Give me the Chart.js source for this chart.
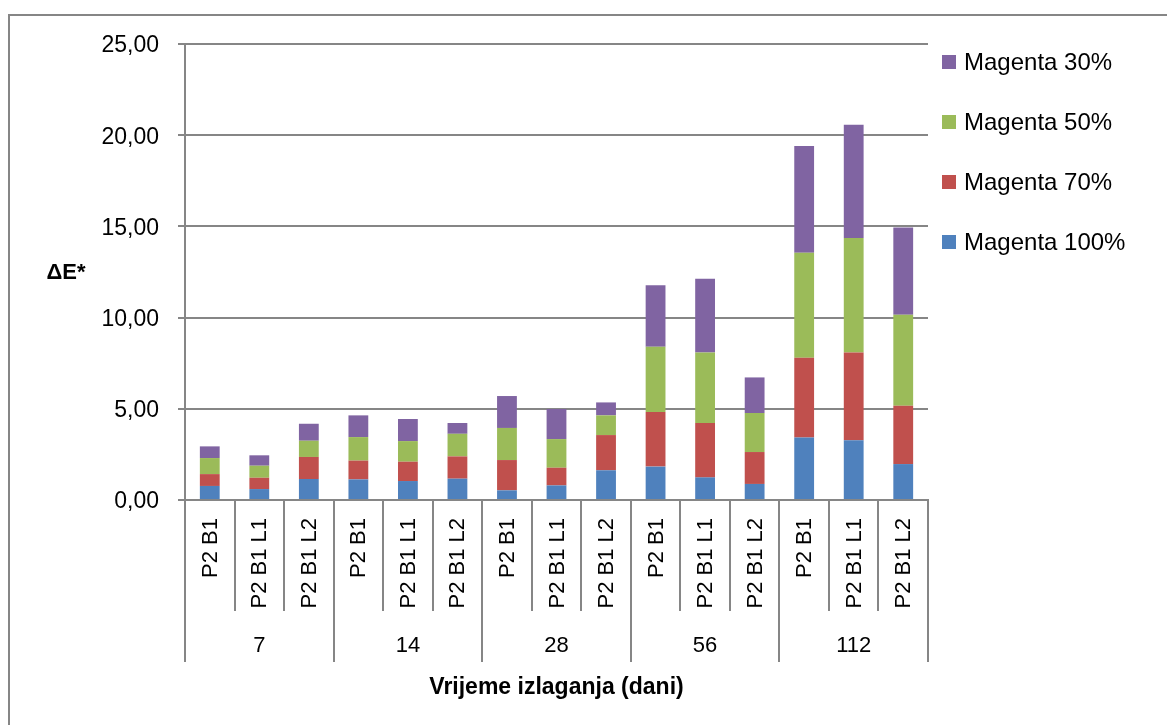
<!DOCTYPE html>
<html>
<head>
<meta charset="utf-8">
<script src="https://cdn.jsdelivr.net/npm/chart.js@4.4.1/dist/chart.umd.min.js"></script>
<style>
  html, body { margin: 0; padding: 0; background: #ffffff; }
  canvas { display: block; }
</style>
</head>
<body>
<canvas id="c" width="1167" height="725"></canvas>
<script>
// ---- data ----
const days = ["7", "14", "28", "56", "112"];
const samples = ["P2 B1", "P2 B1 L1", "P2 B1 L2"];
const magenta100 = [0.77, 0.60, 1.15, 1.13, 1.04, 1.17, 0.53, 0.80, 1.63, 1.83, 1.24, 0.88, 3.43, 3.27, 1.97];
const magenta70  = [0.65, 0.62, 1.21, 1.03, 1.06, 1.22, 1.66, 0.97, 1.93, 2.99, 2.98, 1.75, 4.37, 4.82, 3.20];
const magenta50  = [0.88, 0.66, 0.89, 1.29, 1.13, 1.24, 1.76, 1.57, 1.08, 3.58, 3.87, 2.14, 5.75, 6.27, 4.99];
const magenta30  = [0.64, 0.57, 0.93, 1.19, 1.21, 0.59, 1.75, 1.65, 0.71, 3.38, 4.04, 1.95, 5.86, 6.21, 4.78];
const yTicks = [0, 5, 10, 15, 20, 25];
const yTitle = "ΔE*";
const xTitle = "Vrijeme izlaganja (dani)";

const labels = [];
days.forEach(d => samples.forEach(s => labels.push(s)));

const FONT = "'Liberation Sans', Arial, sans-serif";
const AXIS = "#868686";

const multiLevelAxis = {
  id: 'multiLevelAxis',
  beforeDraw(chart) {
    const ctx = chart.ctx;
    ctx.save();
    ctx.fillStyle = '#ffffff';
    ctx.fillRect(0, 0, chart.width, chart.height);
    ctx.strokeStyle = AXIS;
    ctx.lineWidth = 2;
    ctx.strokeRect(9, 15, chart.width + 20, chart.height + 20);
    ctx.restore();
  },
  afterDraw(chart) {
    const ctx = chart.ctx;
    const xs = chart.scales.x;
    const axisY = xs.top;
    const n = labels.length;
    const step = n > 1 ? xs.getPixelForValue(1) - xs.getPixelForValue(0) : (xs.right - xs.left);
    ctx.save();
    // separators
    ctx.strokeStyle = AXIS;
    ctx.lineWidth = 2;
    for (let i = 0; i <= n; i++) {
      const x = i < n ? xs.getPixelForValue(i) - step / 2 : xs.getPixelForValue(n - 1) + step / 2;
      const bottom = (i % samples.length === 0) ? axisY + 162 : axisY + 111;
      ctx.beginPath();
      ctx.moveTo(Math.round(x), axisY);
      ctx.lineTo(Math.round(x), bottom);
      ctx.stroke();
    }
    // inner labels (rotated)
    ctx.fillStyle = '#000000';
    ctx.font = "22px " + FONT;
    ctx.textAlign = 'right';
    ctx.textBaseline = 'middle';
    for (let i = 0; i < n; i++) {
      const cx = xs.getPixelForValue(i);
      ctx.save();
      ctx.translate(cx + 1, axisY + 18);
      ctx.rotate(-Math.PI / 2);
      ctx.fillText(labels[i], 0, 0);
      ctx.restore();
    }
    // group labels
    ctx.textAlign = 'center';
    ctx.font = "22px " + FONT;
    days.forEach((d, g) => {
      const a = xs.getPixelForValue(g * samples.length);
      const b = xs.getPixelForValue(g * samples.length + samples.length - 1);
      ctx.fillText(d, (a + b) / 2, axisY + 146);
    });
    // x title
    const ca = chart.chartArea;
    ctx.font = "bold 23px " + FONT;
    ctx.fillText(xTitle, (ca.left + ca.right) / 2, axisY + 188);
    // y title
    ctx.font = "bold 22px " + FONT;
    ctx.fillText(yTitle, 66, (ca.top + ca.bottom) / 2 + 1);
    // legend (reverse order)
    const ds = chart.data.datasets.slice().reverse();
    ctx.textAlign = 'left';
    ctx.font = "24px " + FONT;
    ds.forEach((d, k) => {
      const cy = 62 + k * 60;
      ctx.fillStyle = d.backgroundColor;
      ctx.fillRect(942, cy - 7, 14, 14);
      ctx.fillStyle = '#000000';
      ctx.fillText(d.label, 964, cy + 1);
    });
    ctx.restore();
  }
};

new Chart(document.getElementById('c'), {
  type: 'bar',
  data: {
    labels: labels,
    datasets: [
      { label: 'Magenta 100%', data: magenta100, backgroundColor: '#4F81BD' },
      { label: 'Magenta 70%',  data: magenta70,  backgroundColor: '#C0504D' },
      { label: 'Magenta 50%',  data: magenta50,  backgroundColor: '#9BBB59' },
      { label: 'Magenta 30%',  data: magenta30,  backgroundColor: '#8064A2' }
    ]
  },
  options: {
    responsive: false,
    animation: false,
    devicePixelRatio: 1,
    layout: { padding: { left: 0, top: 44, right: 239, bottom: 0 } },
    datasets: { bar: { categoryPercentage: 1.0, barPercentage: 0.4, borderWidth: 0 } },
    plugins: { legend: { display: false }, tooltip: { enabled: false } },
    scales: {
      x: {
        stacked: true,
        grid: { display: false },
        border: { display: true, color: AXIS, width: 2 },
        ticks: { display: false },
        afterFit(scale) { scale.height = 225; }
      },
      y: {
        stacked: true,
        min: 0,
        max: 25,
        afterBuildTicks(scale) { scale.ticks = yTicks.map(v => ({ value: v })); },
        ticks: {
          color: '#000000',
          font: { family: FONT, size: 23 },
          padding: 19,
          labelOffset: 2,
          callback: v => Number(v).toFixed(2).replace('.', ',')
        },
        grid: { color: AXIS, lineWidth: 2, tickLength: 7, drawTicks: true },
        border: { display: true, color: AXIS, width: 2 },
        afterFit(scale) { scale.width = 185; }
      }
    }
  },
  plugins: [multiLevelAxis]
});
</script>
</body>
</html>
